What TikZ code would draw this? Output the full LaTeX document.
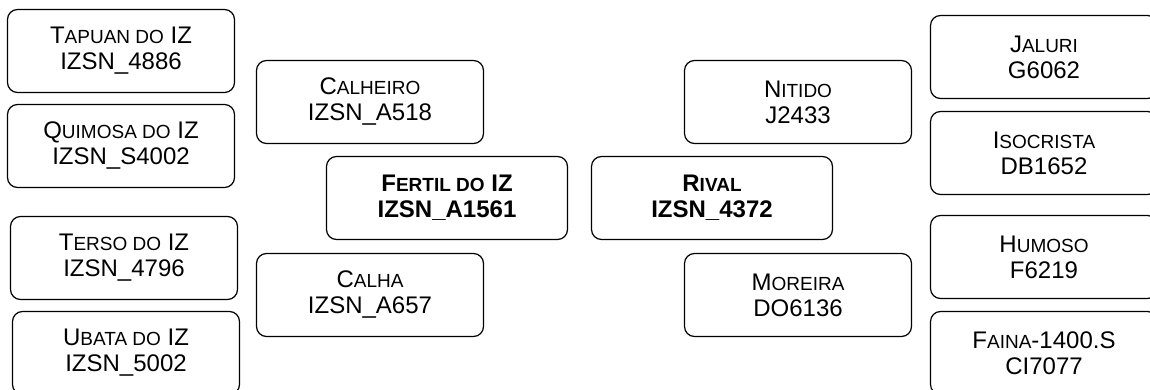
\documentclass[tikz,border=0pt]{standalone}
\usepackage{fontspec}
\setmainfont{Liberation Sans}
\newcommand{\smc}[1]{{\fontsize{19}{26}\selectfont\MakeUppercase{#1}}}

\begin{document}
\begin{tikzpicture}[x=1pt,y=-1pt,
	cultivar/.style={draw, rounded corners=10pt, line width=1.2pt, align=center,
		minimum width=227pt, minimum height=83pt, inner sep=0pt,
		font=\fontsize{24}{26}\selectfont},
	parent/.style={cultivar, minimum width=241pt,
		font=\fontsize{24}{26}\selectfont\bfseries}]
	% Moldura
	\useasboundingbox (0,0) rectangle (1150,390);

	% Coluna esquerda
	\node[cultivar] (tapuan) at (121,51) {T\smc{apuan do} IZ\\IZSN\_4886};
	\node[cultivar] (quimosa) at (121,146) {Q\smc{uimosa do} IZ\\IZSN\_S4002};
	\node[cultivar] (terso) at (124,258) {T\smc{erso do} IZ\\IZSN\_4796};
	\node[cultivar] (ubata) at (126,353) {U\smc{bata do} IZ\\IZSN\_5002};

	% Pais de Fertil
	\node[cultivar] (calheiro) at (370,102) {C\smc{alheiro}\\IZSN\_A518};
	\node[cultivar] (calha) at (370,295) {C\smc{alha}\\IZSN\_A657};

	% Centro
	\node[parent] (fertil) at (447,198) {F\smc{ertil do} IZ\\IZSN\_A1561};
	\node[parent] (rival) at (712,198) {R\smc{ival}\\IZSN\_4372};

	% Pais de Rival
	\node[cultivar] (nitido) at (798,102) {N\smc{itido}\\J2433};
	\node[cultivar] (moreira) at (798,295) {M\smc{oreira}\\DO6136};

	% Coluna direita
	\node[cultivar] (jaluri) at (1044,57) {J\smc{aluri}\\G6062};
	\node[cultivar] (isocrista) at (1044,153) {I\smc{socrista}\\DB1652};
	\node[cultivar] (humoso) at (1044,257) {H\smc{umoso}\\F6219};
	\node[cultivar] (faina) at (1044,353) {F\smc{aina}-1400.S\\CI7077};
\end{tikzpicture}
\end{document}
